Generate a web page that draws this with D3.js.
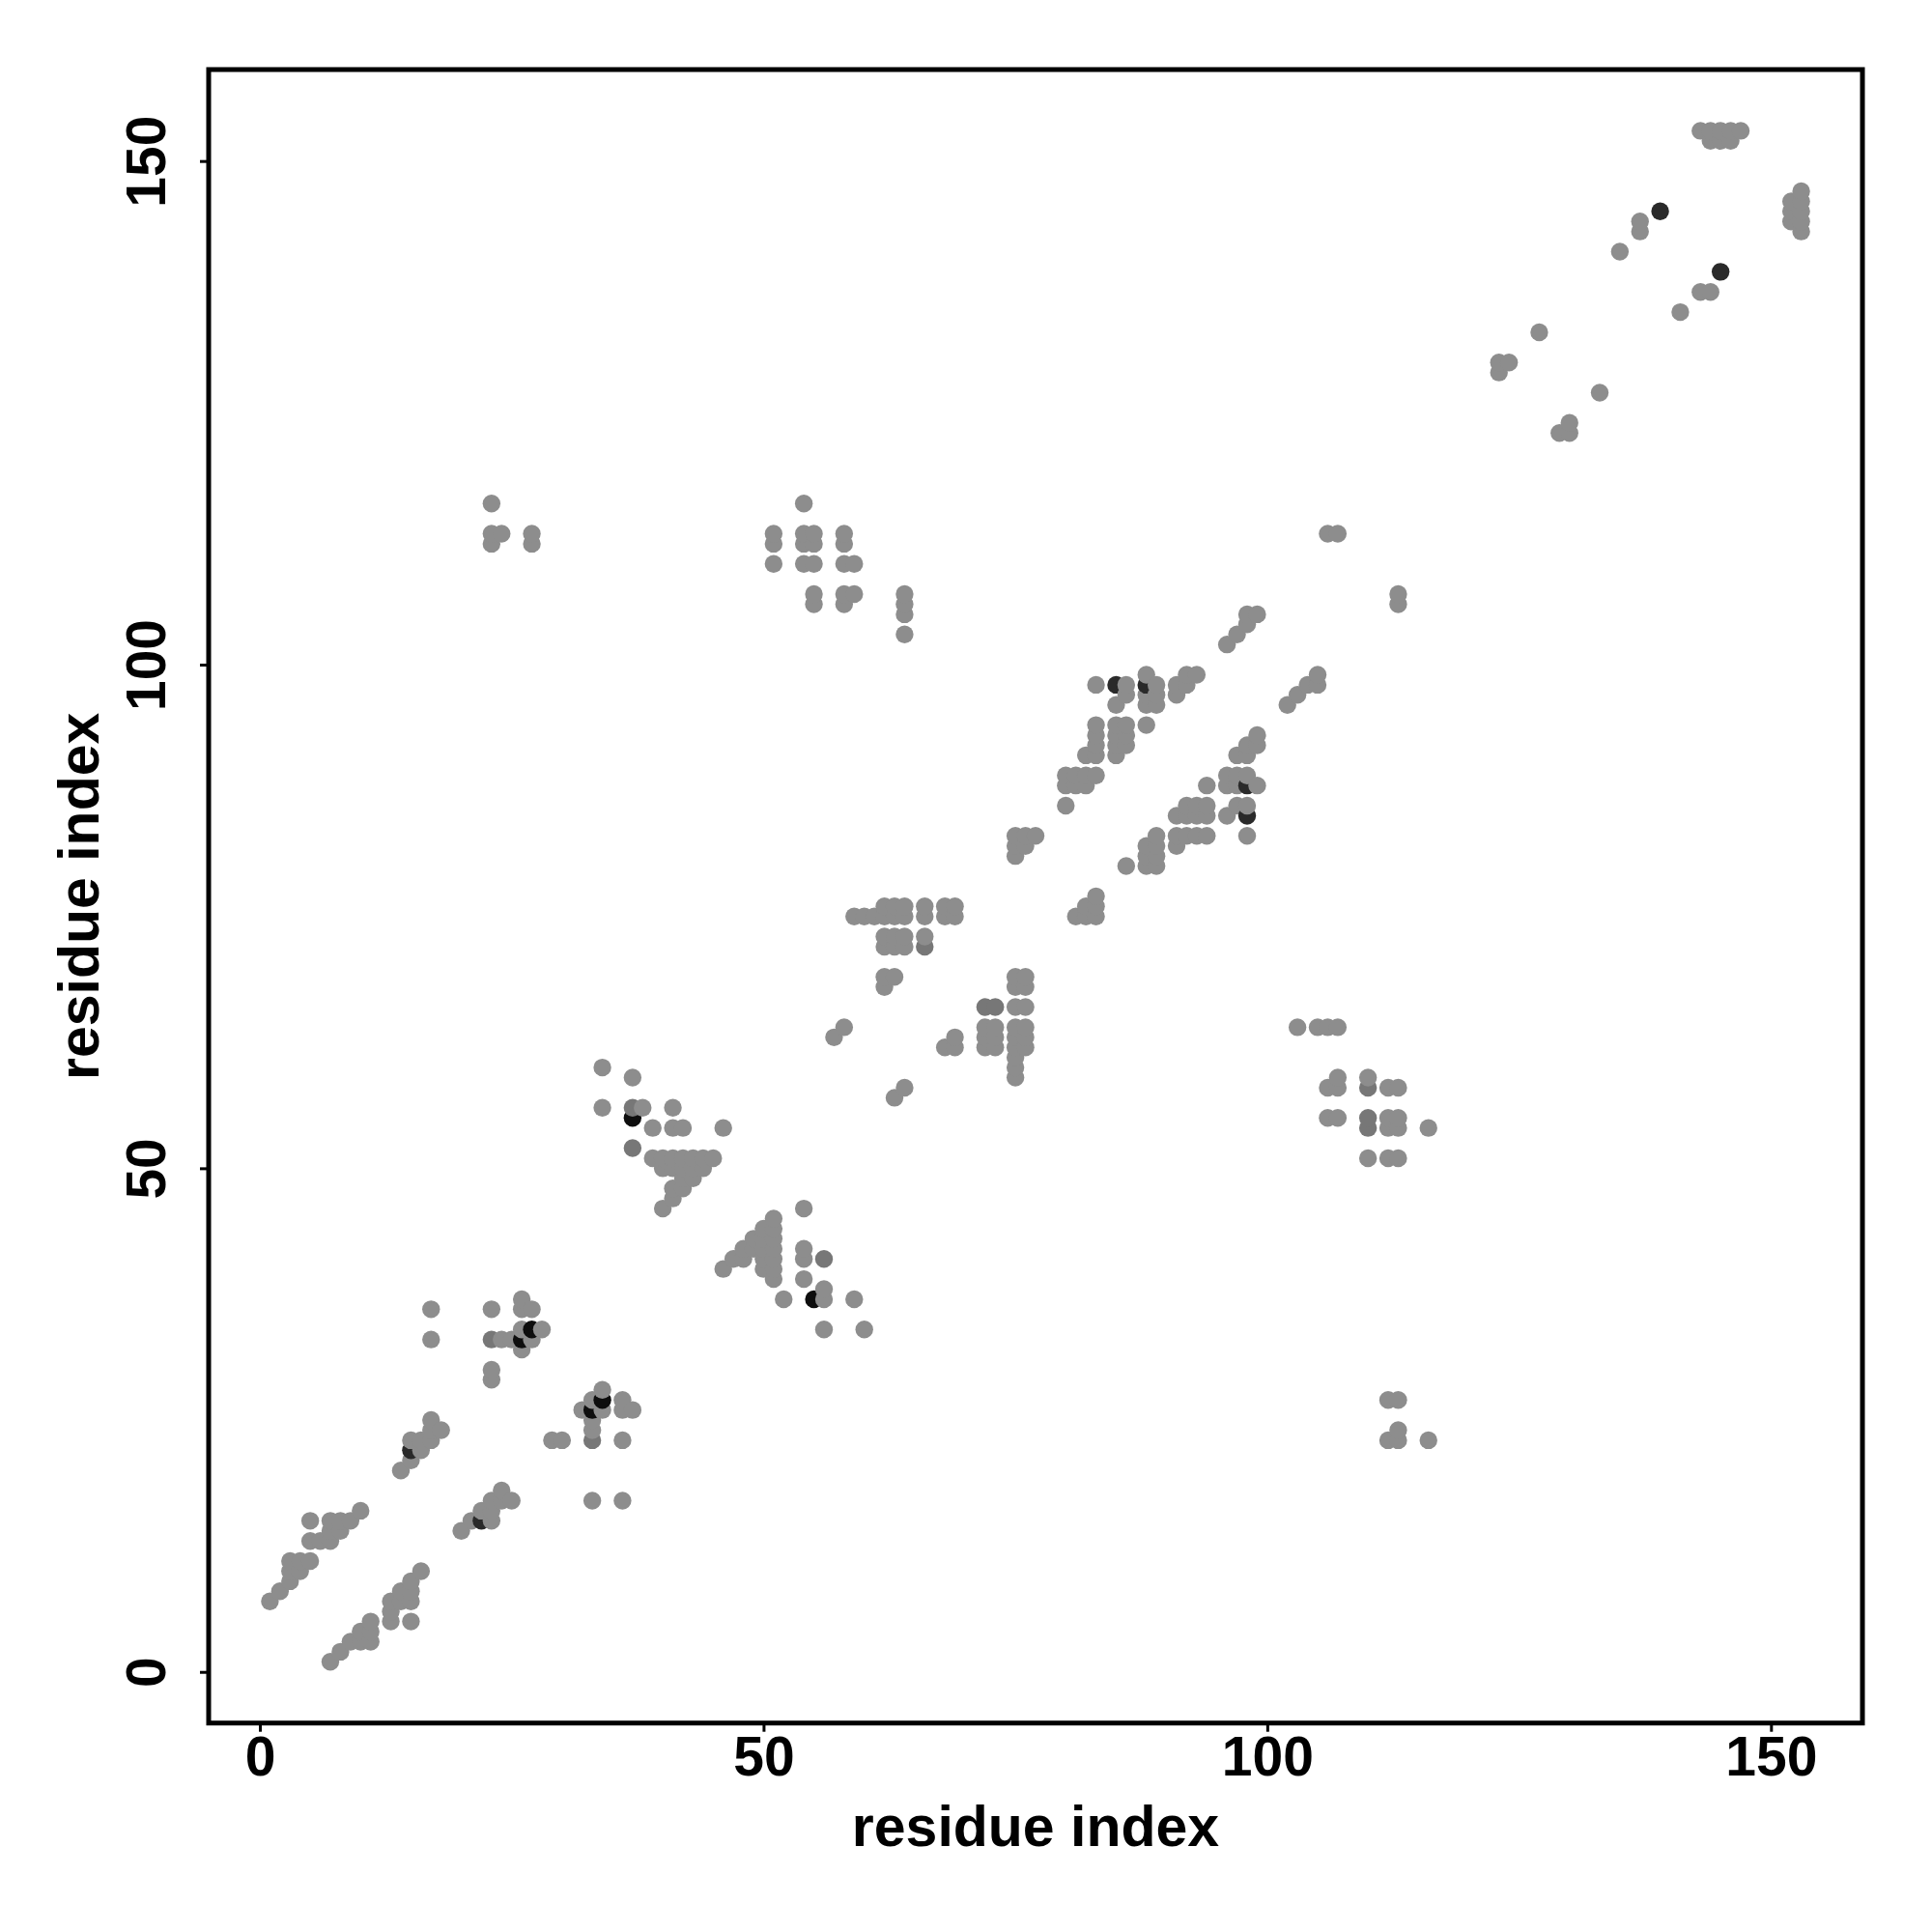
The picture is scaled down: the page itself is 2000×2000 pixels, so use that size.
<!DOCTYPE html>
<html>
<head>
<meta charset="utf-8">
<script src="https://cdn.jsdelivr.net/npm/d3@7"></script>
<style>
  html, body { margin: 0; padding: 0; background: #ffffff; }
  svg { display: block; }
  text { font-family: "Liberation Sans", Arial, Helvetica, sans-serif; font-weight: bold; }
</style>
</head>
<body>
<svg id="chart" width="2000" height="2000"></svg>
<script>
// ---------- data ----------
const xTitle = "residue index";
const yTitle = "residue index";
const xTicks = [0, 50, 100, 150];
const yTicks = [0, 50, 100, 150];

// contacts drawn in plain gray [i, j]
const grayContacts = [
  // near-diagonal strands 1-17
  [1,7],[2,8],[3,9],[3,10],[4,10],[3,11],[4,11],[5,11],[5,13],[6,13],[7,13],[7,14],[8,14],[5,15],[7,15],[8,15],[9,15],[10,16],
  [7,1],[8,2],[9,3],[10,3],[10,4],[11,3],[11,4],[11,5],[13,5],[13,6],[13,7],[14,7],[14,8],[15,5],[15,7],[15,8],[15,9],[16,10],
  [14,20],[15,21],[15,23],[16,22],[16,23],[17,23],[17,24],[17,25],[18,24],
  [20,14],[21,15],[23,15],[22,16],[23,16],[23,17],[24,17],[25,17],[24,18],
  [17,33],[17,36],[23,29],[23,30],[24,33],[25,33],[26,32],[26,34],[27,33],[28,34],[23,36],[26,36],[27,36],[26,37],
  [33,17],[36,17],[29,23],[30,23],[33,24],[33,25],[32,26],[34,26],[33,27],[34,28],[36,23],[36,26],[36,27],[37,26],
  // 34-60
  [34,56],[34,60],[37,59],[38,56],[39,54],[41,56],[41,54],[42,54],[46,54],
  [39,51],[40,51],[41,51],[42,51],[43,51],[44,51],[45,51],[40,50],[41,50],[42,50],[43,50],[44,50],
  [42,49],[43,49],[41,48],[42,48],[41,47],[40,46],
  [56,34],[60,34],[59,37],[56,37],[52,37],[56,38],[54,39],[54,41],[54,42],[54,46],
  [51,39],[51,40],[51,41],[51,42],[51,43],[51,44],[51,45],[50,40],[50,41],[50,42],[50,43],[50,44],
  [49,42],[49,43],[48,41],[48,42],[47,41],[46,40],
  [57,63],[58,64],[63,57],[64,58],
  // 59-77
  [59,75],[60,75],[61,75],[62,75],[63,75],[64,75],[66,75],[68,75],[69,75],
  [62,76],[63,76],[64,76],[66,76],[68,76],[69,76],
  [62,73],[63,73],[64,73],[66,73],[62,72],[63,72],[64,72],
  [62,68],[62,69],[63,69],
  [75,59],[75,60],[75,61],[75,62],[75,63],[75,64],[75,66],[75,68],[75,69],
  [76,62],[76,63],[76,64],[76,66],[76,68],[76,69],
  [73,62],[73,63],[73,64],[72,62],[72,63],[72,64],
  [68,62],[69,62],[69,63],
  [75,81],[75,82],[75,83],[76,82],[76,83],[77,83],
  [81,75],[82,75],[83,75],[82,76],[83,76],[83,77],
  // 80-99
  [80,86],[80,88],[81,88],[82,88],[80,89],[81,89],[82,89],[83,89],
  [82,91],[83,91],[83,92],[83,93],[83,94],[85,91],[85,92],[85,93],[85,94],[86,92],[86,93],[86,94],
  [88,94],[85,96],[88,96],[89,96],[86,97],[88,97],[89,97],[83,98],[86,98],[89,98],[88,99],
  [91,97],[91,98],[92,98],[92,99],[93,99],
  [86,80],[88,80],[88,81],[88,82],[89,80],[89,81],[89,82],[89,83],
  [91,82],[91,83],[92,83],[93,83],[94,83],[91,85],[92,85],[93,85],[94,85],[92,86],[93,86],[94,86],
  [94,88],[96,85],[96,88],[96,89],[97,86],[97,88],[97,89],[98,83],[98,86],[98,89],[99,88],
  [97,91],[98,91],[98,92],[99,92],[99,93],
  [96,102],[97,103],[98,104],[98,105],[99,105],
  [102,96],[103,97],[104,98],[105,98],[105,99],
  // long range
  [23,112],[23,113],[24,113],[27,112],[27,113],[23,116],
  [112,23],[113,23],[113,24],[112,27],[113,27],[116,23],
  [51,110],[51,112],[51,113],[54,110],[54,112],[54,113],[54,116],[55,110],[55,112],[55,113],
  [58,110],[58,112],[58,113],[59,110],[55,106],[55,107],[58,106],[58,107],[59,107],
  [64,103],[64,105],[64,106],[64,107],
  [110,51],[112,51],[113,51],[112,54],[112,55],[113,54],[113,55],[116,54],[112,58],[113,58],[110,59],
  [106,55],[107,55],[106,58],[107,58],[107,59],[103,64],[105,64],[106,64],[107,64],
  [106,113],[107,113],[113,106],[113,107],
  // C-terminal region
  [123,129],[123,130],[124,130],[127,133],[135,141],[137,143],[137,144],
  [143,153],[144,153],[145,153],[146,153],[147,153],[144,152],[145,152],[146,152],
  [129,123],[130,123],[130,124],[133,127],[141,135],[143,137],[144,137],
  [153,143],[153,144],[153,145],[153,146],[153,147],[152,144],[152,145],[152,146]
];

// contacts drawn in darker gray
const midContacts = [
  [23,33],[33,23],[37,56],[37,52],[56,41],[66,72],[72,66],[73,66],[110,54],[110,55],[110,58]
];

// contacts drawn near-black
const darkContacts = [
  [15,22],[22,15],[85,98],[88,98],[98,85],[98,88],[139,145],[145,139]
];

// contacts drawn black
const blackContacts = [
  [26,33],[27,34],[33,26],[34,27],[37,55],[55,37]
];

const levelColors = { gray: "#8d8d8d", mid: "#777777", dark: "#2a2a2a", black: "#0e0e0e" };

// ---------- layout ----------
(function () {
  const svg = d3.select("#chart");
  svg.append("rect").attr("width", 2000).attr("height", 2000).attr("fill", "#ffffff");

  const pLeft = 216, pRight = 1928, pTop = 72, pBottom = 1783.7;
  const x = d3.scaleLinear().domain([-5.08, 159.08]).range([pLeft, pRight]);
  const y = d3.scaleLinear().domain([-5.08, 159.08]).range([pBottom, pTop]);

  // combine, drawn in residue order (i then j) so later contacts overlap earlier ones
  const all = []
    .concat(grayContacts.map(d => ({ i: d[0], j: d[1], c: levelColors.gray })))
    .concat(midContacts.map(d => ({ i: d[0], j: d[1], c: levelColors.mid })))
    .concat(darkContacts.map(d => ({ i: d[0], j: d[1], c: levelColors.dark })))
    .concat(blackContacts.map(d => ({ i: d[0], j: d[1], c: levelColors.black })));
  all.sort((a, b) => (a.i - b.i) || (a.j - b.j));

  const R = 9.2;
  svg.append("g").selectAll("circle").data(all).enter().append("circle")
    .attr("cx", d => x(d.i))
    .attr("cy", d => y(d.j))
    .attr("r", R)
    .attr("fill", d => d.c);

  // box
  svg.append("rect")
    .attr("x", pLeft).attr("y", pTop)
    .attr("width", pRight - pLeft).attr("height", pBottom - pTop)
    .attr("fill", "none").attr("stroke", "#000").attr("stroke-width", 5);

  // x axis
  const gx = svg.append("g").attr("transform", `translate(0,${pBottom})`)
    .call(d3.axisBottom(x).tickValues(xTicks).tickSize(9).tickFormat(d3.format("d")));
  gx.select(".domain").remove();
  gx.selectAll(".tick line").attr("stroke", "#000").attr("stroke-width", 3);
  gx.selectAll(".tick text")
    .attr("y", 54.5).attr("dy", null)
    .attr("fill", "#000")
    .style("font-size", "57px").style("font-weight", "bold")
    .style("font-family", "'Liberation Sans', Arial, sans-serif");

  // y axis
  const gy = svg.append("g").attr("transform", `translate(${pLeft},0)`)
    .call(d3.axisLeft(y).tickValues(yTicks).tickSize(9).tickFormat(d3.format("d")));
  gy.select(".domain").remove();
  gy.selectAll(".tick line").attr("stroke", "#000").attr("stroke-width", 3);
  gy.selectAll(".tick text")
    .attr("x", null).attr("dy", null)
    .attr("text-anchor", "middle")
    .attr("transform", "translate(-45.5,0) rotate(-90)")
    .attr("fill", "#000")
    .style("font-size", "57px").style("font-weight", "bold")
    .style("font-family", "'Liberation Sans', Arial, sans-serif");

  // titles
  svg.append("text")
    .attr("x", (pLeft + pRight) / 2).attr("y", 1911)
    .attr("text-anchor", "middle")
    .style("font-size", "59px")
    .text(xTitle);
  svg.append("text")
    .attr("transform", `translate(102,${(pTop + pBottom) / 2}) rotate(-90)`)
    .attr("text-anchor", "middle")
    .style("font-size", "59px")
    .text(yTitle);
})();
</script>
</body>
</html>
